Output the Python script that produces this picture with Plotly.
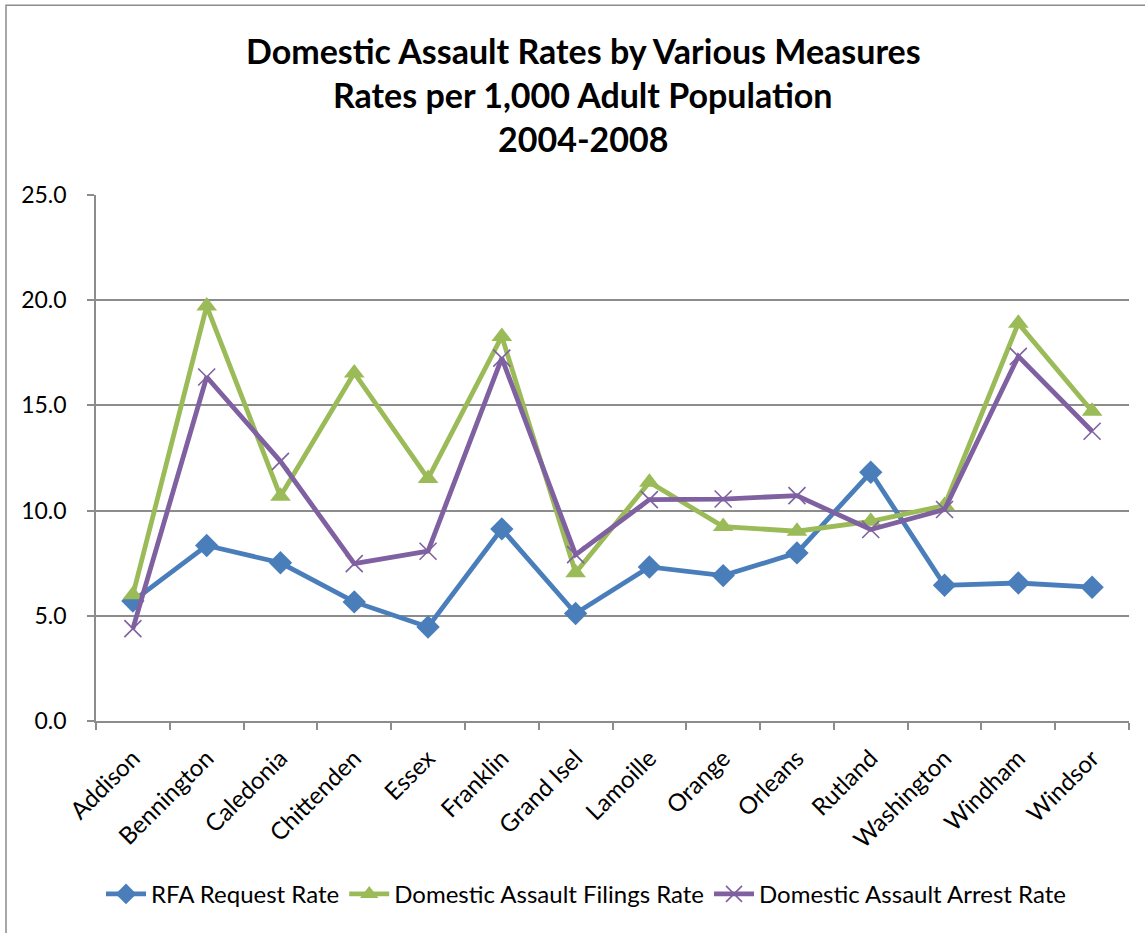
import plotly.graph_objects as go

counties = ["Addison", "Bennington", "Caledonia", "Chittenden", "Essex", "Franklin",
            "Grand Isel", "Lamoille", "Orange", "Orleans", "Rutland", "Washington",
            "Windham", "Windsor"]
rfa_request = [5.7, 8.34, 7.52, 5.66, 4.47, 9.13, 5.11, 7.32, 6.91, 7.99, 11.82, 6.45, 6.56, 6.36]
da_filings = [6.0, 19.72, 10.68, 16.54, 11.52, 18.28, 7.05, 11.35, 9.24, 9.02, 9.49, 10.24, 18.9, 14.72]
da_arrest = [4.39, 16.35, 12.34, 7.48, 8.07, 17.25, 7.91, 10.52, 10.55, 10.71, 9.10, 10.05, 17.33, 13.77]
title_lines = ["Domestic Assault Rates by Various Measures",
               "Rates per 1,000 Adult Population",
               "2004-2008"]
y_ticks = [0, 5, 10, 15, 20, 25]

W, H = 1145, 933
L, R, T, B = 96, 16, 195, 211.5
PW, PH = W - L - R, H - T - B

def px(x):
    return (x - L) / PW

def py(y):
    return (H - B - y) / PH

FONT = "Lato"
GRID = "#8c8c8c"

fig = go.Figure()
fig.add_trace(go.Scatter(
    x=counties, y=rfa_request, name="RFA Request Rate", mode="lines+markers",
    line=dict(color="#4A7EBB", width=4.8),
    marker=dict(symbol="diamond", size=18, color="#4A7EBB")))
fig.add_trace(go.Scatter(
    x=counties, y=da_filings, name="Domestic Assault Filings Rate", mode="lines+markers",
    line=dict(color="#9BBB59", width=4.8),
    marker=dict(symbol="triangle-up", size=18, color="#9BBB59")))
fig.add_trace(go.Scatter(
    x=counties, y=da_arrest, name="Domestic Assault Arrest Rate", mode="lines+markers",
    line=dict(color="#7F60A0", width=4.8),
    marker=dict(symbol="x-thin", size=17, color="#7F60A0",
                line=dict(color="#7F60A0", width=1.6))))

annotations = []
for i, txt in enumerate(title_lines):
    annotations.append(dict(
        text=f"<b>{txt}</b>", x=px(583), y=py(50 + 44 * i), xref="paper", yref="paper",
        xanchor="center", yanchor="middle", showarrow=False,
        font=dict(family=FONT, size=34, color="black")))

fig.update_layout(
    width=W, height=H,
    margin=dict(l=L, r=R, t=T, b=B),
    paper_bgcolor="white", plot_bgcolor="white",
    font=dict(family=FONT, size=20, color="black"),
    annotations=annotations,
    showlegend=True,
    legend=dict(orientation="h", x=px(586), y=py(895), xanchor="center", yanchor="middle",
                font=dict(family=FONT, size=24), itemwidth=40, tracegroupgap=0),
    shapes=[dict(type="rect", xref="paper", yref="paper",
                 x0=px(6), x1=px(1160), y0=py(5), y1=py(950),
                 line=dict(color="#8c8c8c", width=1.5), layer="below")],
)
fig.update_xaxes(
    type="category", range=[-0.5, len(counties) - 0.5], tickangle=-45,
    showgrid=False, automargin=False,
    showline=True, linecolor=GRID, linewidth=1.5,
    ticks="outside", tickson="boundaries", ticklen=7, tickcolor=GRID, tickwidth=1.5,
    tickfont=dict(family=FONT, size=24), ticklabelstandoff=12, mirror=False)
fig.update_yaxes(
    range=[0, 25], tickvals=y_ticks, tickformat=".1f", automargin=False,
    showgrid=True, gridcolor=GRID, gridwidth=1.5,
    showline=True, linecolor=GRID, linewidth=1.5,
    ticks="outside", ticklen=7, tickcolor=GRID, tickwidth=1.5,
    tickfont=dict(family=FONT, size=23), ticklabelstandoff=16, zeroline=False)

fig.write_html("out.html")
